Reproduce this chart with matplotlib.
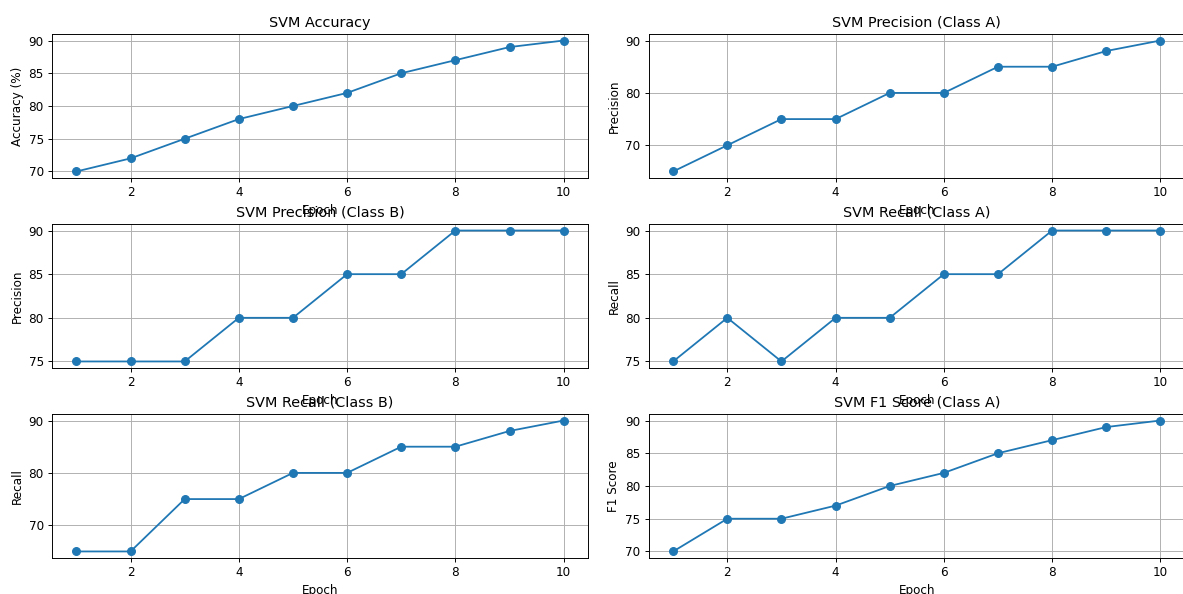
import matplotlib
matplotlib.use('Agg')
from matplotlib import pyplot as plt

epochs = [1, 2, 3, 4, 5, 6, 7, 8, 9, 10]

accuracy = [70, 72, 75, 78, 80, 82, 85, 87, 89, 90]
precision_a = [65, 70, 75, 75, 80, 80, 85, 85, 88, 90]
precision_b = [75, 75, 75, 80, 80, 85, 85, 90, 90, 90]
recall_a = [75, 80, 75, 80, 80, 85, 85, 90, 90, 90]
recall_b = [65, 65, 75, 75, 80, 80, 85, 85, 88, 90]
f1_a = [70, 75, 75, 77, 80, 82, 85, 87, 89, 90]

panels = [
    (accuracy, 'SVM Accuracy', 'Accuracy (%)'),
    (precision_a, 'SVM Precision (Class A)', 'Precision'),
    (precision_b, 'SVM Precision (Class B)', 'Precision'),
    (recall_a, 'SVM Recall (Class A)', 'Recall'),
    (recall_b, 'SVM Recall (Class B)', 'Recall'),
    (f1_a, 'SVM F1 Score (Class A)', 'F1 Score'),
]

# reference looks like a downscaled render -> draw big, save at lower dpi
DPI = 86
fig, axes = plt.subplots(3, 2, figsize=(1183 / DPI, 594 / DPI), dpi=DPI)
for ax, (vals, title, ylabel) in zip(axes.flat, panels):
    ax.plot(epochs, vals, marker='o', markersize=6.5)
    ax.set_title(title)
    ax.set_xlabel('Epoch')
    ax.set_ylabel(ylabel)
    ax.locator_params(axis='y', nbins=5)
    ax.grid(True)

plt.subplots_adjust(left=0.044, right=1.0015, bottom=0.0606, top=0.9428,
                    wspace=0.1134, hspace=0.319)
plt.savefig('out.png', dpi=DPI)
